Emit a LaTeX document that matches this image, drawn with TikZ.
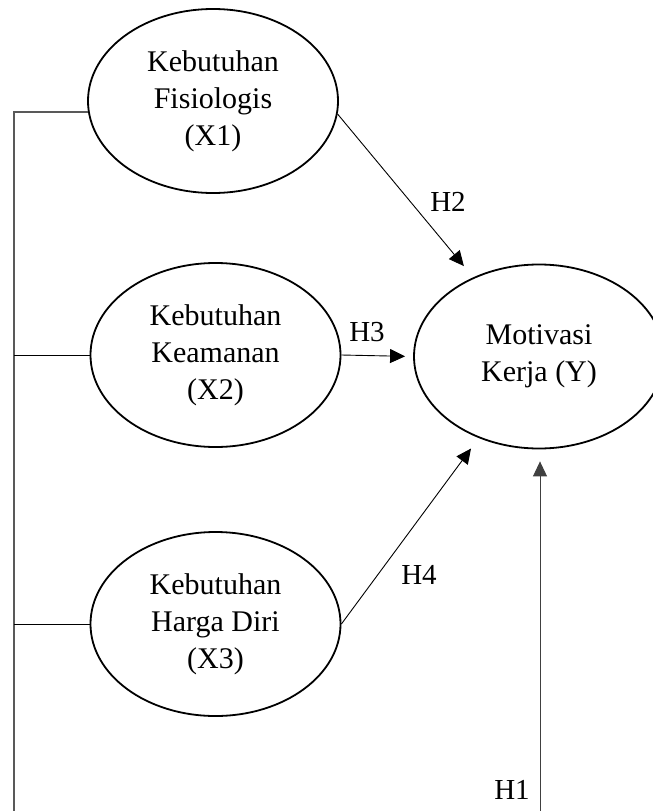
\documentclass[tikz,border=0pt]{standalone}
\usepackage{fontspec}
\setmainfont{Liberation Serif}
\usetikzlibrary{shapes.geometric,arrows.meta}
\tikzset{
  var/.style={ellipse,draw,line width=1.8pt,minimum width=250pt,minimum height=184pt,
    inner sep=0pt,align=center,font=\fontsize{30}{37}\selectfont},
  hyp/.style={font=\fontsize{29}{34}\selectfont,inner sep=0pt},
  hyparrow/.style={-{Triangle[length=15pt,width=14pt]},line width=0.9pt},
  bus/.style={line width=1.6pt,draw=black!65},
  link/.style={line width=0.9pt}
}
\begin{document}
\begin{tikzpicture}[x=1pt,y=1pt]
  \useasboundingbox (0,0) rectangle (653,-811);
  \node[var] (x1) at (213,-101) {Kebutuhan\\Fisiologis\\(X1)};
  \node[var] (x2) at (215.5,-355) {Kebutuhan\\Keamanan\\(X2)};
  \node[var] (x3) at (215.5,-624) {Kebutuhan\\Harga Diri\\(X3)};
  \node[var] (y) at (539,-356.5) {Motivasi\\Kerja (Y)};
  \coordinate (busend) at (14,-811);
  \coordinate (h1base) at (540,-811);
  \draw[bus] (busend) -- (x1.185 -| busend) -- (x1.185);
  \draw[link] (x2.west) -- (x2.west -| busend);
  \draw[link] (x3.west) -- (x3.west -| busend);
  \begin{scope}[hyparrow]
    \draw[shorten >=14.6pt] (x1.-6) -- (y);
    \draw[shorten >=8pt] (x2.east) -- (y.west);
    \draw[shorten >=13pt] (x3.east) -- (y);
    \draw[shorten >=12pt,black!75] (h1base) -- (h1base |- y.south);
  \end{scope}
  \node[hyp] (h2) at (448,-202) {H2};
  \node[hyp] (h3) at (367,-332) {H3};
  \node[hyp] (h4) at (419,-575) {H4};
  \node[hyp] (h1) at (512,-790) {H1};
\end{tikzpicture}
\end{document}
